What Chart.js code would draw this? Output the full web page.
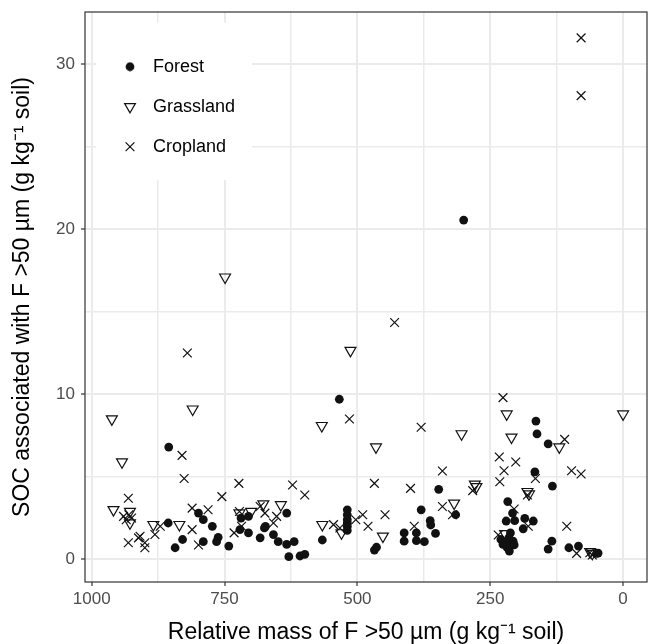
<!DOCTYPE html>
<html>
<head>
<meta charset="utf-8">
<script src="https://cdn.jsdelivr.net/npm/chart.js@4.4.1/dist/chart.umd.min.js"></script>
<style>
html,body{margin:0;padding:0;background:#ffffff;overflow:hidden;}
#wrap{width:649px;height:644px;}
canvas{display:block;}
</style>
</head>
<body>
<div id="wrap"><canvas id="c" width="649" height="644"></canvas></div>
<script>
// ---------- data ----------
const seriesNames = ['Forest', 'Grassland', 'Cropland'];

const forestX = [855,856,829,843,799,790,773,790,762,765,742,534,719,705,721,705,683,675,673,658,649,633,619,633,629,608,599,566,519,519,519,519,519,519,468,464,380,412,412,389,389,374,363,362,353,347,315,300,164,162,141,166,133,217,208,220,204,185,169,188,230,226,222,218,215,214,212,210,207,205,134,141,102,84,50,47];
const forestY = [6.8,2.2,1.2,0.7,2.8,2.4,2.0,1.07,1.33,1.07,0.8,9.7,2.5,2.6,1.8,1.6,1.3,1.9,2.0,1.5,1.07,0.9,1.07,2.8,0.16,0.2,0.3,1.17,3.0,2.7,2.4,2.2,2.0,1.75,0.56,0.73,3.0,1.6,1.1,1.6,1.13,1.07,2.34,2.08,1.57,4.24,2.7,20.56,8.38,7.6,7.0,5.3,4.44,3.5,2.8,2.32,2.34,2.48,2.32,1.85,1.2,0.9,1.0,0.7,1.3,0.5,1.6,0.9,1.1,0.87,1.1,0.62,0.7,0.8,0.36,0.38];

const grassX = [962,810,943,959,928,928,884,835,749,722,700,677,644,567,566,530,513,465,452,318,304,279,276,219,210,120,0,180,177,62,58,222];
const grassY = [8.5,9.1,5.9,3.0,2.9,2.2,2.1,2.1,17.1,2.8,2.9,3.35,3.3,8.1,2.1,1.6,12.65,6.8,1.4,3.4,7.6,4.55,4.4,8.8,7.4,6.8,8.8,4.1,3.95,0.45,0.35,1.55];

const cropX = [830,826,755,931,940,935,930,925,871,881,909,912,900,900,931,811,811,781,799,820,723,622,599,683,674,652,658,732,718,545,533,503,490,480,515,430,468,448,400,380,393,340,340,321,283,226,233,202,224,232,235,165,110,97,79,180,205,178.5,106,87.5,62.5,58,79,79,722];
const cropY = [6.3,4.9,3.8,3.7,2.6,2.4,2.7,2.5,2.0,1.5,1.4,1.3,1.0,0.7,1.0,1.8,3.1,3.0,0.87,12.5,4.6,4.5,3.9,3.2,2.8,2.6,2.2,1.6,2.0,2.1,1.9,2.4,2.7,2.0,8.5,14.35,4.6,2.7,4.3,8.0,2.0,5.35,3.2,2.7,4.16,9.8,6.2,5.9,5.37,4.7,1.47,4.9,7.27,5.37,5.17,3.9,3.05,2.0,2.0,0.36,0.4,0.26,31.6,28.1,2.9];

// axis ticks
const xMajorTicks = [0, 250, 500, 750, 1000];
const xMinorTicks = [125, 375, 625, 875];
const yMajorTicks = [0, 10, 20, 30];
const yMinorTicks = [5, 15, 25];
const xTitle = 'Relative mass of F >50 µm (g kg⁻¹ soil)';
const yTitle = 'SOC associated with F >50 µm (g kg⁻¹ soil)';

// ---------- chart ----------
const FONT = "'Liberation Sans', Arial, Helvetica, sans-serif";
Chart.defaults.font.family = FONT;
const INK = '#111111';

function toPoints(xs, ys) { return xs.map((x, i) => ({ x: x, y: ys[i] })); }

const dotCanvas = document.createElement('canvas');
dotCanvas.width = 10; dotCanvas.height = 10;
(function () {
  const d = dotCanvas.getContext('2d');
  d.fillStyle = INK; d.beginPath(); d.arc(5, 5, 4.4, 0, Math.PI * 2); d.fill();
})();

const isMajorX = v => xMajorTicks.includes(v);
const isMajorY = v => yMajorTicks.includes(v);

function noEdgePadding(scale) {
  scale.paddingTop = 0; scale.paddingBottom = 0;
  scale.paddingLeft = 0; scale.paddingRight = 0;
}

const framePlugin = {
  id: 'frame',
  afterInit(chart) {
    const lg = chart.legend;
    if (lg && !lg._wrapped) {
      const orig = lg.draw.bind(lg);
      lg.draw = function () {
        const c = chart.ctx;
        c.save();
        c.fillStyle = '#ffffff';
        c.fillRect(96, 22.7, 156, 157.3);
        c.restore();
        orig();
      };
      lg._wrapped = true;
    }
  },
  afterLayout(chart) {
    const lg = chart.legend;
    if (!lg) return;
    lg.left = 99; lg.top = 35.7; lg.right = 262; lg.bottom = 260;
    lg.width = lg.right - lg.left; lg.height = lg.bottom - lg.top;
  },
  afterDraw(chart) {
    const a = chart.chartArea, c = chart.ctx;
    c.save();
    c.strokeStyle = '#333333';
    c.lineWidth = 1.2;
    c.strokeRect(a.left, a.top, a.right - a.left, a.bottom - a.top);
    c.restore();
  }
};

new Chart(document.getElementById('c'), {
  type: 'scatter',
  data: {
    datasets: [
      { label: seriesNames[0], data: toPoints(forestX, forestY), pointStyle: 'circle', pointRadius: 4.4,
        pointBackgroundColor: INK, pointBorderColor: INK, pointBorderWidth: 0, backgroundColor: INK, borderColor: INK },
      { label: seriesNames[1], data: toPoints(grassX, grassY), pointStyle: 'triangle', pointRotation: 180, pointRadius: 6.3,
        pointBackgroundColor: 'rgba(0,0,0,0)', pointBorderColor: INK, pointBorderWidth: 1.2, backgroundColor: 'rgba(0,0,0,0)', borderColor: INK },
      { label: seriesNames[2], data: toPoints(cropX, cropY), pointStyle: 'crossRot', pointRadius: 6.2,
        pointBackgroundColor: 'rgba(0,0,0,0)', pointBorderColor: INK, pointBorderWidth: 1.2, backgroundColor: 'rgba(0,0,0,0)', borderColor: INK }
    ]
  },
  options: {
    responsive: false,
    animation: false,
    devicePixelRatio: 1,
    layout: { autoPadding: false, padding: { top: 12, right: 2, left: 0, bottom: 0 } },
    plugins: {
      tooltip: { enabled: false },
      legend: {
        position: 'chartArea',
        align: 'start',
        labels: {
          usePointStyle: true,
          boxWidth: 18,
          boxHeight: 8.8,
          padding: 22,
          color: '#000000',
          font: { size: 18, family: FONT },
          generateLabels(chart) {
            const items = Chart.defaults.plugins.legend.labels.generateLabels(chart);
            items.forEach(it => { it.text = ' ' + it.text; });
            items[0].pointStyle = dotCanvas;
            return items;
          }
        }
      }
    },
    scales: {
      x: {
        type: 'linear',
        reverse: true,
        min: -45,
        max: 1012.6,
        afterBuildTicks(axis) {
          axis.ticks = xMajorTicks.concat(xMinorTicks).sort((a, b) => a - b).map(v => ({ value: v }));
        },
        afterFit(scale) { scale.height = 62; noEdgePadding(scale); },
        border: { display: false },
        grid: {
          color: '#EBEBEB',
          lineWidth: c => (c.tick && isMajorX(c.tick.value)) ? 2 : 1.5,
          drawTicks: true,
          tickLength: 4,
          tickWidth: 1.2,
          tickColor: c => (c.tick && isMajorX(c.tick.value)) ? '#333333' : 'rgba(0,0,0,0)'
        },
        ticks: {
          autoSkip: false,
          maxRotation: 0,
          padding: 3,
          color: '#4D4D4D',
          font: { size: 17, family: FONT },
          callback: v => isMajorX(v) ? String(v) : ''
        },
        title: {
          display: true,
          text: xTitle,
          color: '#000000',
          font: { size: 23, family: FONT, lineHeight: 1 },
          padding: { top: 0, bottom: 0 }
        }
      },
      y: {
        type: 'linear',
        min: -1.376,
        max: 33.17,
        afterBuildTicks(axis) {
          axis.ticks = yMajorTicks.concat(yMinorTicks).sort((a, b) => a - b).map(v => ({ value: v }));
        },
        afterFit(scale) { scale.width = 85; noEdgePadding(scale); },
        border: { display: false },
        grid: {
          color: '#EBEBEB',
          lineWidth: c => (c.tick && isMajorY(c.tick.value)) ? 2 : 1.5,
          drawTicks: true,
          tickLength: 4,
          tickWidth: 1.2,
          tickColor: c => (c.tick && isMajorY(c.tick.value)) ? '#333333' : 'rgba(0,0,0,0)'
        },
        ticks: {
          autoSkip: false,
          padding: 6,
          color: '#4D4D4D',
          font: { size: 17, family: FONT },
          callback: v => isMajorY(v) ? String(v) : ''
        },
        title: {
          display: true,
          text: yTitle,
          color: '#000000',
          font: { size: 23, family: FONT, lineHeight: 1 },
          padding: { top: 11.5, bottom: 0 }
        }
      }
    }
  },
  plugins: [framePlugin]
});
</script>
</body>
</html>
